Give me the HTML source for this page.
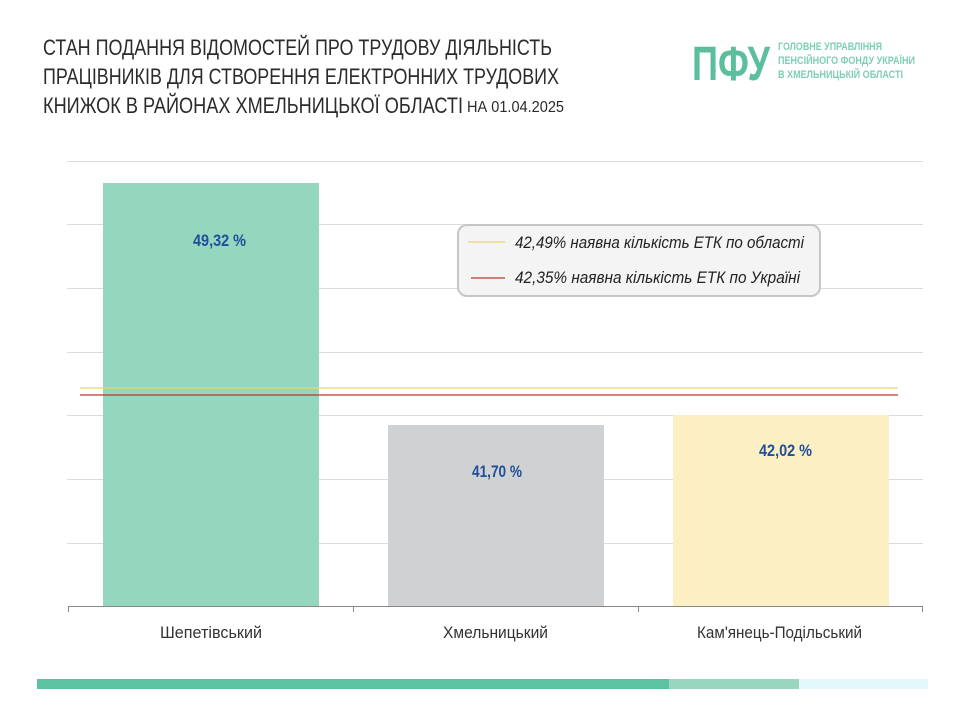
<!DOCTYPE html>
<html><head><meta charset="utf-8"><style>
html,body{margin:0;padding:0;background:#fff;width:960px;height:720px;overflow:hidden}
svg text{font-family:"Liberation Sans Narrow","Liberation Sans",sans-serif}
</style></head><body>
<svg width="960" height="720" viewBox="0 0 960 720" xmlns="http://www.w3.org/2000/svg">
<g fill="#2b2b2b" font-size="22">
<text x="43" y="55" textLength="509" lengthAdjust="spacingAndGlyphs">СТАН ПОДАННЯ ВІДОМОСТЕЙ ПРО ТРУДОВУ ДІЯЛЬНІСТЬ</text>
<text x="43" y="84" textLength="516" lengthAdjust="spacingAndGlyphs">ПРАЦІВНИКІВ ДЛЯ СТВОРЕННЯ ЕЛЕКТРОННИХ ТРУДОВИХ</text>
<text x="43" y="113" textLength="420" lengthAdjust="spacingAndGlyphs">КНИЖОК В РАЙОНАХ ХМЕЛЬНИЦЬКОЇ ОБЛАСТІ</text>
<text x="467" y="112" font-size="16" textLength="97" lengthAdjust="spacingAndGlyphs">НА 01.04.2025</text>
</g>
<text x="692" y="80" font-size="48" font-weight="bold" fill="#5bbf9c" textLength="78" lengthAdjust="spacingAndGlyphs">ПФУ</text>
<g fill="#7fcfb3" font-size="11" font-weight="bold">
<text x="778" y="50" textLength="104" lengthAdjust="spacingAndGlyphs">ГОЛОВНЕ УПРАВЛІННЯ</text>
<text x="778" y="64" textLength="137" lengthAdjust="spacingAndGlyphs">ПЕНСІЙНОГО ФОНДУ УКРАЇНИ</text>
<text x="778" y="78" textLength="125" lengthAdjust="spacingAndGlyphs">В ХМЕЛЬНИЦЬКІЙ ОБЛАСТІ</text>
</g>
<g stroke="#dcdcdc" stroke-width="1">
<line x1="67" y1="161.5" x2="923" y2="161.5"/>
<line x1="67" y1="224.5" x2="923" y2="224.5"/>
<line x1="67" y1="288.5" x2="923" y2="288.5"/>
<line x1="67" y1="352.5" x2="923" y2="352.5"/>
<line x1="67" y1="415.5" x2="923" y2="415.5"/>
<line x1="67" y1="479.5" x2="923" y2="479.5"/>
<line x1="67" y1="543.5" x2="923" y2="543.5"/>
</g>
<rect x="103" y="183" width="216" height="423" fill="#95d6bf"/>
<rect x="388" y="425" width="216" height="181" fill="#d0d1d3"/>
<rect x="673" y="415" width="216" height="191" fill="#fcefc3"/>
<line x1="80" y1="388" x2="898" y2="388" stroke="#e8d86a" stroke-width="1.3"/>
<line x1="80" y1="395" x2="898" y2="395" stroke="#b33a2a" stroke-width="1.3"/>
<g stroke="#888" stroke-width="1">
<line x1="68" y1="606.5" x2="923" y2="606.5"/>
<line x1="68.5" y1="606" x2="68.5" y2="612"/>
<line x1="353.5" y1="606" x2="353.5" y2="612"/>
<line x1="638.5" y1="606" x2="638.5" y2="612"/>
<line x1="922.5" y1="606" x2="922.5" y2="612"/>
</g>
<g fill="#1f4e9a" font-size="17" font-weight="bold">
<text x="193" y="246" textLength="53" lengthAdjust="spacingAndGlyphs">49,32 %</text>
<text x="472" y="477" textLength="50" lengthAdjust="spacingAndGlyphs">41,70 %</text>
<text x="759" y="456" textLength="53" lengthAdjust="spacingAndGlyphs">42,02 %</text>
</g>
<g fill="#333" font-size="17">
<text x="160" y="638" textLength="102" lengthAdjust="spacingAndGlyphs">Шепетівський</text>
<text x="443" y="638" textLength="105" lengthAdjust="spacingAndGlyphs">Хмельницький</text>
<text x="697" y="638" textLength="165" lengthAdjust="spacingAndGlyphs">Кам'янець-Подільський</text>
</g>
<rect x="458" y="225" width="362" height="71" rx="9" fill="#f4f4f4" stroke="#c6c6c6" stroke-width="2"/>
<line x1="468" y1="242" x2="505" y2="242" stroke="#e8d86a" stroke-width="1.3"/>
<line x1="471" y1="278" x2="505" y2="278" stroke="#b33a2a" stroke-width="1.3"/>
<g fill="#222" font-size="17" font-style="italic">
<text x="515" y="248" textLength="289" lengthAdjust="spacingAndGlyphs">42,49% наявна кількість ЕТК по області</text>
<text x="515" y="283" textLength="285" lengthAdjust="spacingAndGlyphs">42,35% наявна кількість ЕТК по Україні</text>
</g>
<rect x="37" y="679" width="632" height="10" fill="#5bc2a2"/>
<rect x="669" y="679" width="130" height="10" fill="#98d6bf"/>
<rect x="799" y="679" width="129" height="10" fill="#e3f8fb"/>
</svg>
</body></html>
